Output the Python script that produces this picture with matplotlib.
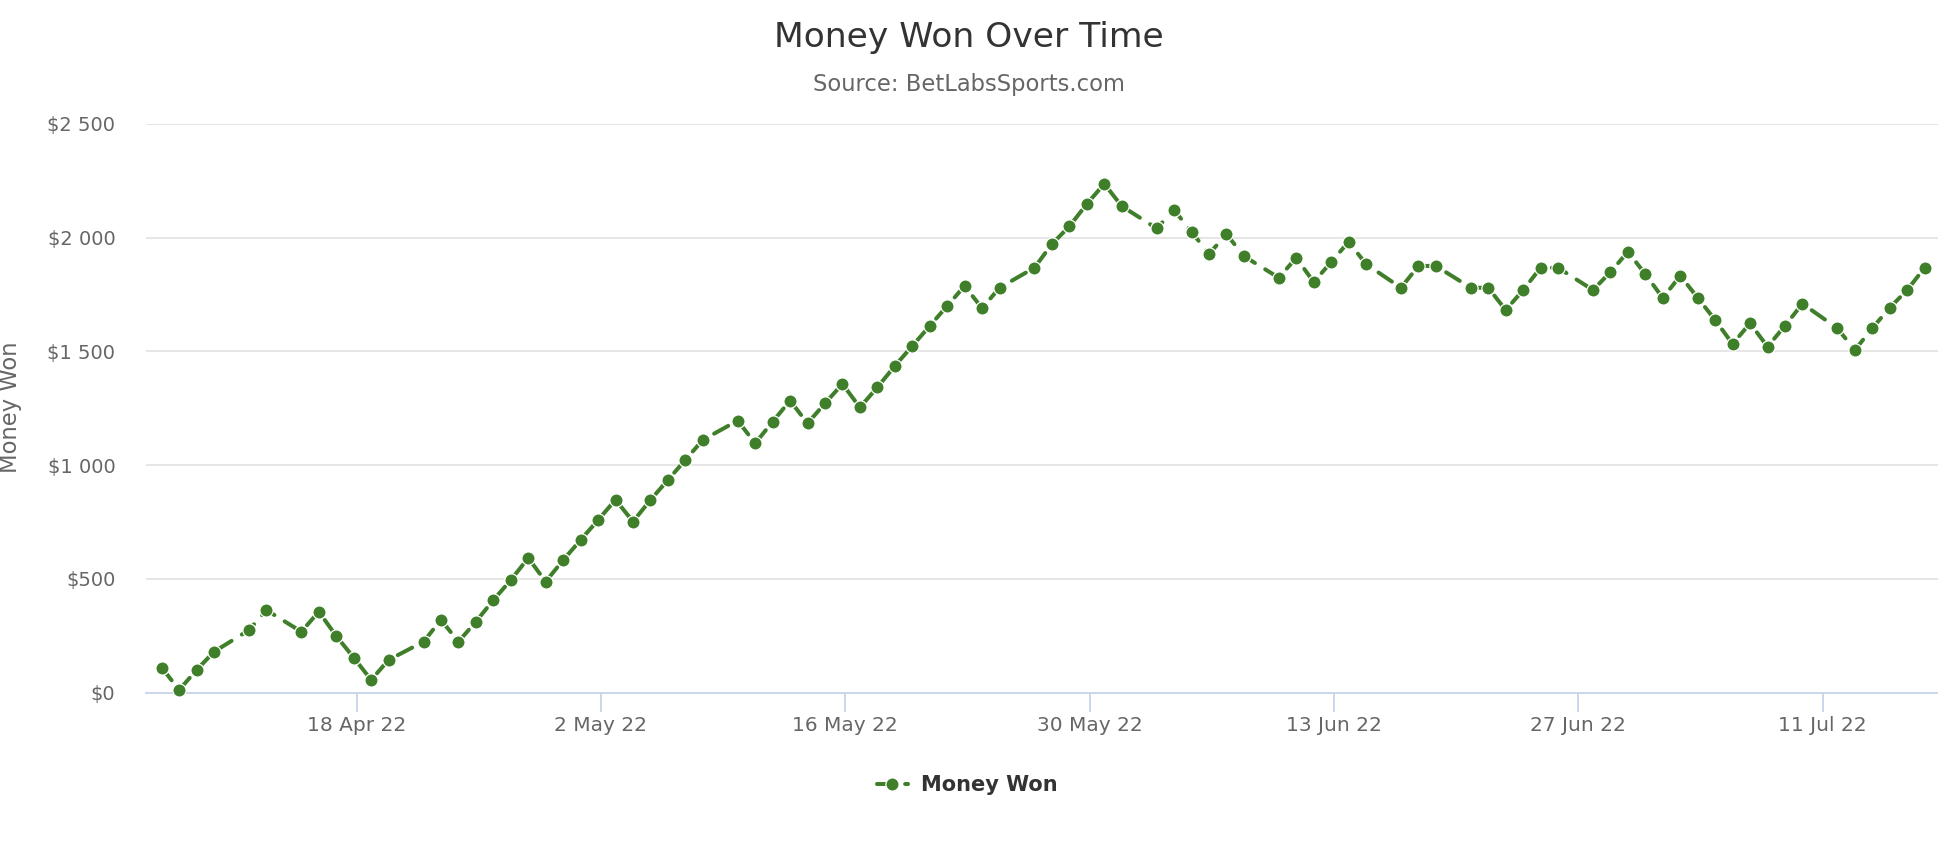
import pandas as pd
import matplotlib
matplotlib.use("Agg")
import matplotlib.pyplot as plt
import matplotlib.dates as mdates
from matplotlib.ticker import FuncFormatter, MultipleLocator

# data
dates = ['2022-04-07', '2022-04-08', '2022-04-09', '2022-04-10', '2022-04-12', '2022-04-13',
         '2022-04-15', '2022-04-16', '2022-04-17', '2022-04-18', '2022-04-19', '2022-04-20',
         '2022-04-22', '2022-04-23', '2022-04-24', '2022-04-25', '2022-04-26', '2022-04-27',
         '2022-04-28', '2022-04-29', '2022-04-30', '2022-05-01', '2022-05-02', '2022-05-03',
         '2022-05-04', '2022-05-05', '2022-05-06', '2022-05-07', '2022-05-08', '2022-05-10',
         '2022-05-11', '2022-05-12', '2022-05-13', '2022-05-14', '2022-05-15', '2022-05-16',
         '2022-05-17', '2022-05-18', '2022-05-19', '2022-05-20', '2022-05-21', '2022-05-22',
         '2022-05-23', '2022-05-24', '2022-05-25', '2022-05-27', '2022-05-28', '2022-05-29',
         '2022-05-30', '2022-05-31', '2022-06-01', '2022-06-03', '2022-06-04', '2022-06-05',
         '2022-06-06', '2022-06-07', '2022-06-08', '2022-06-10', '2022-06-11', '2022-06-12',
         '2022-06-13', '2022-06-14', '2022-06-15', '2022-06-17', '2022-06-18', '2022-06-19',
         '2022-06-21', '2022-06-22', '2022-06-23', '2022-06-24', '2022-06-25', '2022-06-26',
         '2022-06-28', '2022-06-29', '2022-06-30', '2022-07-01', '2022-07-02', '2022-07-03',
         '2022-07-04', '2022-07-05', '2022-07-06', '2022-07-07', '2022-07-08', '2022-07-09',
         '2022-07-10', '2022-07-12', '2022-07-13', '2022-07-14', '2022-07-15', '2022-07-16',
         '2022-07-17']
money_won = [110, 12, 100, 180, 275, 363,
             268, 356, 249, 154, 56, 144,
             224, 320, 224, 312, 407, 495,
             592, 488, 583, 671, 759, 848,
             752, 847, 935, 1023, 1111, 1196,
             1096, 1191, 1284, 1184, 1272, 1357,
             1254, 1342, 1436, 1524, 1612, 1700,
             1788, 1690, 1780, 1868, 1972, 2050,
             2148, 2237, 2139, 2041, 2122, 2026,
             1928, 2016, 1919, 1824, 1912, 1805,
             1893, 1982, 1884, 1780, 1876, 1876,
             1780, 1780, 1682, 1770, 1868, 1868,
             1770, 1849, 1938, 1840, 1735, 1833,
             1736, 1638, 1533, 1624, 1521, 1613,
             1710, 1602, 1506, 1602, 1692, 1770,
             1868]
tick_dates = ['2022-04-18', '2022-05-02', '2022-05-16', '2022-05-30',
              '2022-06-13', '2022-06-27', '2022-07-11']
tick_labels = ['18 Apr 22', '2 May 22', '16 May 22', '30 May 22',
               '13 Jun 22', '27 Jun 22', '11 Jul 22']

green = '#3f7f2a'
plt.rcParams['font.family'] = ['DejaVu Sans']

fig = plt.figure(figsize=(19.38, 8.58), dpi=100)
ax = fig.add_axes([0.0753, 0.1927, 0.9247, 0.6628])

# points sit a few hours before midnight in the source chart
x = pd.to_datetime(dates) - pd.Timedelta(hours=4)
ax.plot(x, money_won, color=green, lw=2.9, dashes=(4, 3), dash_capstyle='round',
        marker='o', ms=9.5, mfc=green, mec='white', mew=0.9,
        label='Money Won', clip_on=False, zorder=3)

ref = mdates.date2num(pd.Timestamp('2022-04-18'))
ax.set_xlim(ref - 12.07, ref + 90.6)
ax.set_ylim(0, 2500)

ax.set_xticks(pd.to_datetime(tick_dates))
ax.set_xticklabels(tick_labels)
ax.yaxis.set_major_locator(MultipleLocator(500))
ax.yaxis.set_major_formatter(FuncFormatter(lambda v, p: '${:,.0f}'.format(v).replace(',', ' ')))

ax.grid(axis='y', color='#e6e6e6', lw=1.4)
ax.set_axisbelow(True)
for s in ['top', 'right', 'left']:
    ax.spines[s].set_visible(False)
ax.spines['bottom'].set_color('#ccd6eb')
ax.spines['bottom'].set_linewidth(1.4)
ax.spines['bottom'].set_zorder(2)

ax.tick_params(axis='y', length=0, pad=22, labelsize=14, labelcolor='#666666')
ax.tick_params(axis='x', length=13.7, width=1.4, color='#ccd6eb', pad=3,
               labelsize=14.5, labelcolor='#666666')

fig.text(0.5, 1 - 38 / 858, 'Money Won Over Time', ha='center', va='center',
         fontsize=24.8, color='#333333')
fig.text(0.5, 1 - 85 / 858, 'Source: BetLabsSports.com', ha='center', va='center',
         fontsize=16.3, color='#666666')
fig.text(11 / 1938, 0.525, 'Money Won', rotation=90, ha='center', va='center',
         fontsize=16.3, color='#666666')

leg = fig.legend(loc='center', bbox_to_anchor=(0.499, 73 / 858), frameon=False,
                 handlelength=1.5, handletextpad=0.6, numpoints=1,
                 prop={'size': 15, 'weight': 'bold'})
for t in leg.get_texts():
    t.set_color('#333333')

fig.savefig('out.png', dpi=100)
